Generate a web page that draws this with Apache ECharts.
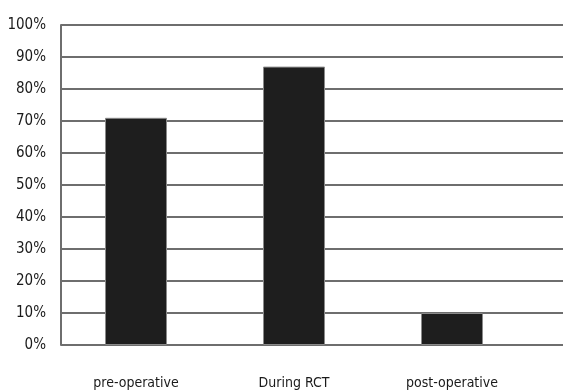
<!DOCTYPE html>
<html>
<head>
<meta charset="utf-8">
<script src="https://cdn.jsdelivr.net/npm/echarts@6/dist/echarts.min.js"></script>
<style>
html,body{margin:0;padding:0;background:#fff;}
#c{width:563px;height:392px;}
</style>
</head>
<body>
<div id="c"></div>
<script>
var categories = ['pre-operative', 'During RCT', 'post-operative'];
var values = [71, 87, 10];
var yTicks = { min: 0, max: 100, interval: 10 };

var font = '"DejaVu Sans Condensed", "DejaVu Sans", sans-serif';
var chart = echarts.init(document.getElementById('c'), null, { renderer: 'canvas' });
chart.setOption({
  animation: false,
  backgroundColor: '#ffffff',
  grid: [
    { left: 61, right: -2, top: 25, bottom: 47 },
    { left: 57, width: 474, top: 25, bottom: 47 }
  ],
  xAxis: [
    { gridIndex: 0, type: 'category', data: categories, show: false },
    { gridIndex: 1, type: 'category', data: categories,
      axisLine: { show: false }, axisTick: { show: false },
      axisLabel: { margin: 31, fontFamily: font, fontSize: 14, color: '#1a1a1a' } }
  ],
  yAxis: [
    { gridIndex: 0, type: 'value', min: yTicks.min, max: yTicks.max, interval: yTicks.interval,
      axisLine: { show: true, lineStyle: { color: '#6e6e6e', width: 2 } },
      axisTick: { show: false },
      splitLine: { show: true, lineStyle: { color: '#6e6e6e', width: 2 } },
      axisLabel: { margin: 15, fontFamily: font, fontSize: 15, color: '#1a1a1a',
        formatter: function (v) { return v + '%'; } } },
    { gridIndex: 1, type: 'value', min: yTicks.min, max: yTicks.max, interval: yTicks.interval,
      show: false, splitLine: { show: false } }
  ],
  series: [{
    type: 'bar', xAxisIndex: 1, yAxisIndex: 1, data: values,
    barWidth: 62,
    itemStyle: { color: '#1e1e1e', borderColor: '#8a8a8a', borderWidth: 1 }
  }]
});
</script>
</body>
</html>
